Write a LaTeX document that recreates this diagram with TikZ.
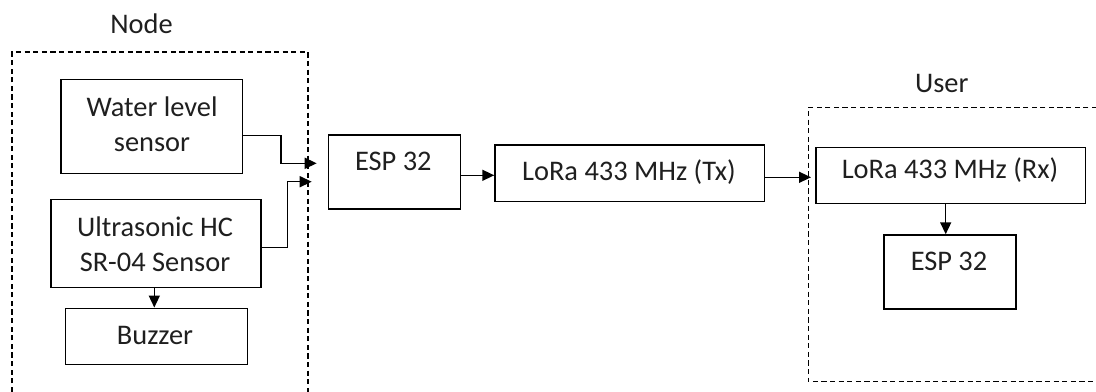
\documentclass[tikz,border=0pt]{standalone}
\usepackage{fontspec}
\setmainfont{Carlito}
\usetikzlibrary{arrows.meta,fit}
\begin{document}
\begin{tikzpicture}[x=0.5pt,y=-0.5pt,
  box/.style={draw=black,line width=0.75pt,inner sep=0pt,fit={#1}},
  txt/.style={anchor=base,inner sep=0pt,font=\fontsize{14.2pt}{17.5pt}\selectfont,text=black!88},
  grp/.style={draw=black,line width=0.7pt,dash pattern=on 2.6pt off 1.7pt},
  arr/.style={draw=black,line width=0.75pt,-{Triangle[length=6pt,width=5.5pt]}}]
\useasboundingbox (0,0) rectangle (1096,391);
% groups
\draw[grp] (12,392) -- (12,52) -- (308,52) -- (308,392);
\draw[grp] (1097,107.3) -- (808.3,107.3) -- (808.3,381.7) -- (1097,381.7);
\node[txt] (nodelbl) at (141.5,33) {Node};
\node[txt] (userlbl) at (941.7,92.5) {User};
% boxes
\node[box={(61,79.3) (242.7,173.3)}] (wl) {};
\node[box={(51,199.3) (261,287.7)}] (us) {};
\node[box={(65.3,308.3) (247.7,364.3)}] (bz) {};
\node[box={(328.3,135) (460.7,209)}] (esp1) {};
\node[box={(495,145) (764.3,201.7)}] (tx) {};
\node[box={(816,147.3) (1085.7,203.3)}] (rx) {};
\node[box={(884,235) (1016,309)}] (esp2) {};
% texts
\node[txt] (wlt1) at (152,116.7) {Water level};
\node[txt] (wlt2) at (152,151.7) {sensor};
\node[txt] (ust1) at (155,236.7) {Ultrasonic HC};
\node[txt] (ust2) at (155,271.7) {SR-04 Sensor};
\node[txt] (bzt) at (155,344) {Buzzer};
\node[txt] (esp1t) at (393.3,170.7) {ESP 32};
\node[txt] (txt1) at (629,180.7) {LoRa 433 MHz (Tx)};
\node[txt] (rxt) at (950,178.3) {LoRa 433 MHz (Rx)};
\node[txt] (esp2t) at (949,270) {ESP 32};
% connectors
\coordinate (in1) at (316.7,163.3);
\coordinate (in2) at (311.7,181.7);
\coordinate (in3) at (811,177.3);
\draw[arr] (wl.east |- 0,135.7) -| (281,163.3) -- (in1);
\draw[arr] (us.east |- 0,247.7) -| (287.3,181.7) -- (in2);
\draw[arr] (us.south -| 154.3,0) -- (bz.north -| 154.3,0);
\draw[arr] (esp1.east |- 0,175.3) -- (tx.west |- 0,175.3);
\draw[arr] (tx.east |- in3) -- (in3);
\draw[arr] (rx.south -| 945.7,0) -- (esp2.north -| 945.7,0);
\end{tikzpicture}
\end{document}
